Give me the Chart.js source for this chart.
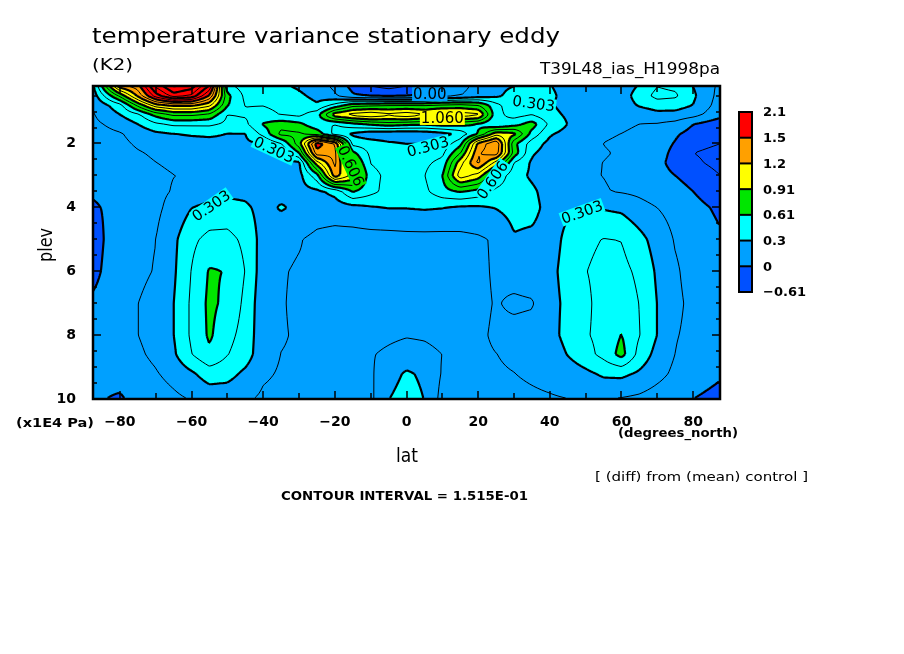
<!DOCTYPE html>
<html>
<head>
<meta charset="utf-8">
<title>temperature variance stationary eddy</title>
<script src="https://cdn.jsdelivr.net/npm/chart.js@4.4.0/dist/chart.umd.min.js"></script>
<style>
  html, body { margin: 0; padding: 0; background: #fff; }
  canvas { display: block; }
</style>
</head>
<body>
<canvas id="grafica" width="904" height="654"></canvas>
<script>
// grid of the field: lat (degrees_north) x plev (x1E4 Pa), values in K2
var lats = [-87.5,-80,-75,-70,-65,-60,-55,-50,-45,-40,-35,-30,-25,-20,-15,-10,-5,0,5,10,15,20,25,30,35,40,45,50,55,60,65,70,75,80,87.5];
var plevs = [0.2,0.5,0.8,1.1,1.4,1.7,2.0,2.3,2.6,3.0,3.5,4.0,5.0,6.0,7.0,8.0,8.6,9.2,10.0];

var p0_2 = [0.27,1.30,1.45,2.00,2.30,2.20,1.80,0.50,0.38,0.40,0.33,0.28,0.22,0.12,-0.05,-0.15,-0.20,-0.15,-0.10,-0.03,0.10,0.20,0.27,0.30,0.35,0.31,0.25,0.20,0.16,0.20,0.32,0.45,0.42,0.30,0.12];
var p0_5 = [0.22,0.80,1.25,1.75,2.05,1.95,1.50,0.65,0.42,0.42,0.38,0.33,0.26,0.17,0.02,-0.02,-0.03,-0.02,0.02,0.10,0.15,0.22,0.27,0.36,0.40,0.33,0.26,0.20,0.17,0.22,0.38,0.50,0.48,0.33,0.10];
var p0_8 = [0.17,0.40,0.80,1.15,1.25,1.25,1.10,0.62,0.45,0.45,0.42,0.38,0.32,0.50,0.70,0.72,0.75,0.75,0.75,0.78,0.80,0.75,0.50,0.35,0.38,0.32,0.25,0.20,0.17,0.22,0.32,0.38,0.37,0.30,0.08];
var p1_1 = [0.14,0.30,0.42,0.65,0.78,0.78,0.72,0.45,0.47,0.50,0.45,0.42,0.55,1.00,1.12,1.18,1.10,1.16,1.08,1.17,1.15,1.10,0.50,0.40,0.45,0.35,0.28,0.20,0.17,0.18,0.20,0.25,0.25,0.20,0.05];
var p1_4 = [0.12,0.20,0.30,0.42,0.48,0.48,0.48,0.42,0.42,0.62,0.70,0.65,0.50,0.45,0.55,0.62,0.68,0.64,0.62,0.66,0.65,0.58,0.45,0.55,0.68,0.42,0.30,0.22,0.20,0.18,0.15,0.14,0.10,0.00,-0.10];
var p1_7 = [0.10,0.14,0.20,0.27,0.30,0.32,0.33,0.30,0.30,0.50,0.80,0.78,0.70,0.40,0.28,0.20,0.18,0.18,0.20,0.25,0.35,0.62,1.00,0.95,0.55,0.32,0.25,0.20,0.17,0.15,0.12,0.08,0.02,-0.05,-0.15];
var p2_0 = [0.07,0.12,0.17,0.20,0.22,0.24,0.25,0.26,0.28,0.30,0.45,0.85,1.60,1.35,0.40,0.38,0.33,0.30,0.30,0.35,0.55,1.25,1.50,0.65,0.38,0.26,0.22,0.20,0.15,0.13,0.10,0.07,-0.01,-0.10,-0.15];
var p2_3 = [0.05,0.10,0.14,0.17,0.19,0.20,0.22,0.23,0.25,0.27,0.28,0.60,1.45,1.40,0.65,0.42,0.40,0.38,0.38,0.42,0.75,1.35,1.45,0.70,0.32,0.24,0.22,0.18,0.16,0.14,0.10,0.06,-0.04,-0.15,-0.20];
var p2_6 = [0.04,0.08,0.12,0.15,0.17,0.18,0.19,0.20,0.21,0.22,0.24,0.28,1.00,1.40,0.80,0.45,0.40,0.40,0.42,0.50,1.00,1.40,1.00,0.45,0.28,0.25,0.20,0.17,0.15,0.13,0.08,0.04,-0.05,-0.12,-0.20];
var p3_0 = [0.03,0.07,0.10,0.13,0.15,0.16,0.17,0.18,0.19,0.20,0.21,0.25,0.55,1.30,1.00,0.50,0.42,0.40,0.45,0.60,1.15,1.00,0.58,0.36,0.28,0.22,0.18,0.16,0.15,0.13,0.10,0.05,0.00,-0.05,-0.15];
var p3_5 = [0.02,0.05,0.09,0.12,0.16,0.20,0.24,0.26,0.26,0.22,0.24,0.25,0.27,0.35,0.62,0.50,0.40,0.38,0.42,0.55,0.62,0.55,0.42,0.38,0.33,0.24,0.20,0.17,0.16,0.14,0.12,0.08,0.05,0.00,-0.10];
var p4_0 = [-0.02,0.05,0.09,0.12,0.20,0.30,0.34,0.36,0.33,0.25,0.32,0.27,0.22,0.22,0.25,0.29,0.31,0.31,0.32,0.31,0.28,0.28,0.31,0.35,0.35,0.25,0.28,0.29,0.29,0.27,0.20,0.15,0.10,0.05,-0.03];
var p5_0 = [-0.08,0.12,0.12,0.15,0.27,0.42,0.50,0.50,0.42,0.24,0.18,0.16,0.12,0.10,0.09,0.09,0.09,0.10,0.10,0.10,0.11,0.13,0.17,0.29,0.27,0.24,0.34,0.42,0.46,0.45,0.35,0.24,0.14,0.10,0.02];
var p6_0 = [-0.05,0.12,0.12,0.16,0.28,0.46,0.62,0.60,0.45,0.22,0.16,0.14,0.14,0.10,0.09,0.09,0.09,0.09,0.09,0.10,0.10,0.12,0.17,0.20,0.22,0.26,0.36,0.45,0.50,0.50,0.42,0.28,0.17,0.10,0.05];
var p7_0 = [0.03,0.10,0.15,0.20,0.30,0.48,0.64,0.57,0.42,0.20,0.16,0.13,0.12,0.10,0.10,0.10,0.10,0.10,0.10,0.10,0.10,0.12,0.16,0.13,0.14,0.25,0.34,0.42,0.52,0.56,0.45,0.30,0.18,0.12,0.06];
var p8_0 = [0.05,0.10,0.15,0.20,0.30,0.48,0.63,0.50,0.40,0.20,0.16,0.14,0.11,0.09,0.09,0.10,0.12,0.14,0.13,0.10,0.11,0.13,0.17,0.19,0.20,0.24,0.36,0.44,0.50,0.61,0.46,0.30,0.16,0.12,0.08];
var p8_6 = [0.04,0.08,0.13,0.18,0.28,0.45,0.58,0.46,0.38,0.20,0.15,0.14,0.12,0.12,0.12,0.14,0.18,0.22,0.20,0.15,0.12,0.13,0.15,0.17,0.15,0.20,0.31,0.40,0.50,0.66,0.40,0.25,0.15,0.10,0.05];
var p9_2 = [0.03,0.06,0.10,0.14,0.20,0.28,0.38,0.36,0.27,0.17,0.14,0.13,0.12,0.12,0.12,0.13,0.25,0.32,0.28,0.14,0.12,0.13,0.14,0.15,0.17,0.19,0.22,0.27,0.33,0.34,0.28,0.20,0.12,0.08,0.02];
var p10_0 = [0.02,-0.02,0.05,0.08,0.12,0.16,0.20,0.20,0.17,0.13,0.12,0.11,0.10,0.10,0.10,0.12,0.30,0.36,0.30,0.10,0.10,0.11,0.12,0.12,0.13,0.14,0.15,0.16,0.16,0.14,0.12,0.08,0.05,0.00,-0.05];

var field = [p0_2,p0_5,p0_8,p1_1,p1_4,p1_7,p2_0,p2_3,p2_6,p3_0,p3_5,p4_0,p5_0,p6_0,p7_0,p8_0,p8_6,p9_2,p10_0];

var fillLevels = [-0.61, 0, 0.303, 0.606, 0.909, 1.212, 1.515, 2.121];
var fillColors = ['#0050ff', '#00a0ff', '#00ffff', '#00e600', '#ffff00', '#ffa000', '#ff0000'];
var barLabels = ['\u22120.61', '0', '0.3', '0.61', '0.91', '1.2', '1.5', '2.1'];
var latTicks = [-80, -60, -40, -20, 0, 20, 40, 60, 80];
var plevTicks = [2, 4, 6, 8, 10];
var contourInterval = 0.1515;

// contour labels
var labelLats = [-37, 6, 6.5, 35.5, -54.5, 49, -15.5, 24, 10];
var labelPlevs = [2.2, 2.1, 0.45, 0.75, 3.95, 4.15, 2.7, 3.15, 1.2];
var labelTexts = ['0.303', '0.303', '0.00', '0.303', '0.303', '0.303', '0.606', '0.606', '1.060'];

var labelAngles = [25, -15, 0, 8, -35, -20, 65, -55, 0];

function buscarIndice(arr, v) {
    var i = 0;
    while (i < arr.length - 2 && v > arr[i + 1]) i++;
    return i;
}

function valorCampo(lat, p) {
    var i = buscarIndice(lats, lat), j = buscarIndice(plevs, p);
    var tx = (lat - lats[i]) / (lats[i + 1] - lats[i]);
    var ty = (p - plevs[j]) / (plevs[j + 1] - plevs[j]);
    tx = Math.max(0, Math.min(1, tx));
    ty = Math.max(0, Math.min(1, ty));
    var a = field[j][i], b = field[j][i + 1], c = field[j + 1][i], d = field[j + 1][i + 1];
    return (a * (1 - tx) + b * tx) * (1 - ty) + (c * (1 - tx) + d * tx) * ty;
}

function indiceColor(v) {
    var k = 0;
    while (k < fillColors.length - 1 && v >= fillLevels[k + 1]) k++;
    return k;
}

function hexRGB(h) {
    return [parseInt(h.substr(1, 2), 16), parseInt(h.substr(3, 2), 16), parseInt(h.substr(5, 2), 16)];
}
var rgbColors = fillColors.map(hexRGB);

function textoAjustado(ctx, txt, x, y, ancho) {
    var w = ctx.measureText(txt).width;
    ctx.save();
    ctx.translate(x, y);
    ctx.scale(ancho / w, 1);
    ctx.textAlign = 'left';
    ctx.textBaseline = 'middle';
    ctx.fillText(txt, 0, 0);
    ctx.restore();
}

function linea(ctx, x1, y1, x2, y2) {
    ctx.beginPath();
    ctx.moveTo(x1, y1);
    ctx.lineTo(x2, y2);
    ctx.stroke();
}

var contourPlugin = {
    id: 'contorno',
    beforeDatasetsDraw: function(chart) {
        var ctx = chart.ctx, a = chart.chartArea, sx = chart.scales.x, sy = chart.scales.y;
        var x0 = Math.round(a.left), y0 = Math.round(a.top);
        var w = Math.round(a.right) - x0, h = Math.round(a.bottom) - y0;

        // shaded field
        var img = ctx.createImageData(w, h);
        var colLat = [], rowP = [];
        for (var i = 0; i < w; i++) colLat.push(sx.getValueForPixel(x0 + i + 0.5));
        for (var j = 0; j < h; j++) rowP.push(sy.getValueForPixel(y0 + j + 0.5));
        for (j = 0; j < h; j++) {
            for (i = 0; i < w; i++) {
                var c = rgbColors[indiceColor(valorCampo(colLat[i], rowP[j]))];
                var o = (j * w + i) * 4;
                img.data[o] = c[0]; img.data[o + 1] = c[1]; img.data[o + 2] = c[2]; img.data[o + 3] = 255;
            }
        }
        ctx.putImageData(img, x0, y0);

        // contour lines (marching squares on a 2px grid)
        var s = 2;
        var nx = Math.floor(w / s) + 1, ny = Math.floor(h / s) + 1;
        var gx = [], gy = [], g = [];
        for (i = 0; i < nx; i++) gx.push(Math.min(x0 + i * s, x0 + w));
        for (j = 0; j < ny; j++) gy.push(Math.min(y0 + j * s, y0 + h));
        for (j = 0; j < ny; j++) {
            var rp = sy.getValueForPixel(gy[j]);
            for (i = 0; i < nx; i++) g.push(valorCampo(sx.getValueForPixel(gx[i]), rp));
        }
        ctx.save();
        ctx.beginPath();
        ctx.rect(a.left, a.top, a.right - a.left, a.bottom - a.top);
        ctx.clip();
        ctx.strokeStyle = '#000';
        ctx.lineJoin = 'round';
        for (var k = -4; k <= 16; k++) {
            var lv = k * contourInterval;
            ctx.lineWidth = (k % 2 === 0) ? 2.2 : 1;
            ctx.beginPath();
            for (j = 0; j < ny - 1; j++) {
                for (i = 0; i < nx - 1; i++) {
                    var v0 = g[j * nx + i], v1 = g[j * nx + i + 1];
                    var v2 = g[(j + 1) * nx + i + 1], v3 = g[(j + 1) * nx + i];
                    var idx = (v0 > lv ? 8 : 0) | (v1 > lv ? 4 : 0) | (v2 > lv ? 2 : 0) | (v3 > lv ? 1 : 0);
                    if (idx === 0 || idx === 15) continue;
                    var xa = gx[i], xb = gx[i + 1], ya = gy[j], yb = gy[j + 1];
                    var T = [xa + (xb - xa) * (lv - v0) / (v1 - v0), ya];
                    var R = [xb, ya + (yb - ya) * (lv - v1) / (v2 - v1)];
                    var B = [xa + (xb - xa) * (lv - v3) / (v2 - v3), yb];
                    var L = [xa, ya + (yb - ya) * (lv - v0) / (v3 - v0)];
                    var segs;
                    switch (idx) {
                        case 1: case 14: segs = [L, B]; break;
                        case 2: case 13: segs = [B, R]; break;
                        case 3: case 12: segs = [L, R]; break;
                        case 4: case 11: segs = [T, R]; break;
                        case 6: case 9: segs = [T, B]; break;
                        case 7: case 8: segs = [L, T]; break;
                        case 5: segs = [L, T, B, R]; break;
                        case 10: segs = [T, R, L, B]; break;
                    }
                    for (var q = 0; q < segs.length; q += 2) {
                        ctx.moveTo(segs[q][0], segs[q][1]);
                        ctx.lineTo(segs[q + 1][0], segs[q + 1][1]);
                    }
                }
            }
            ctx.stroke();
        }

        // labels on the contours
        ctx.font = '15px "DejaVu Sans"';
        ctx.textAlign = 'center';
        ctx.textBaseline = 'middle';
        for (var n = 0; n < labelTexts.length; n++) {
            var px = sx.getPixelForValue(labelLats[n]), py = sy.getPixelForValue(labelPlevs[n]);
            var tw = ctx.measureText(labelTexts[n]).width;
            ctx.save();
            ctx.translate(px, py);
            ctx.rotate(labelAngles[n] * Math.PI / 180);
            ctx.fillStyle = fillColors[indiceColor(valorCampo(labelLats[n], labelPlevs[n]))];
            ctx.fillRect(-tw / 2 - 1, -7, tw + 2, 14);
            ctx.fillStyle = '#000';
            ctx.fillText(labelTexts[n], 0, 1);
            ctx.restore();
        }
        ctx.restore();
    },
    afterDraw: function(chart) {
        var ctx = chart.ctx, a = chart.chartArea, sx = chart.scales.x, sy = chart.scales.y;
        ctx.save();
        ctx.strokeStyle = '#000';
        ctx.fillStyle = '#000';

        // frame and inward ticks
        ctx.lineWidth = 2.5;
        ctx.strokeRect(a.left, a.top, a.right - a.left, a.bottom - a.top);
        ctx.lineWidth = 1.5;
        for (var lt = -80; lt <= 80; lt += 10) {
            var px = Math.round(sx.getPixelForValue(lt));
            var len = (lt % 20 === 0) ? 8 : 6;
            linea(ctx, px, a.bottom, px, a.bottom - len);
            linea(ctx, px, a.top, px, a.top + len);
        }
        for (var pv = 0.5; pv <= 10; pv += 0.5) {
            var py = Math.round(sy.getPixelForValue(pv));
            var ln = (pv % 2 === 0) ? 8 : 4;
            linea(ctx, a.left, py, a.left + ln, py);
            linea(ctx, a.right, py, a.right - ln, py);
        }

        // colour bar
        var cbX = 739, cbW = 13, cbTop = 112, cbH = 180;
        var nb = fillColors.length, bh = cbH / nb;
        for (var k = 0; k < nb; k++) {
            ctx.fillStyle = fillColors[nb - 1 - k];
            ctx.fillRect(cbX, cbTop + k * bh, cbW, bh);
        }
        ctx.lineWidth = 2;
        ctx.strokeRect(cbX, cbTop, cbW, cbH);
        for (k = 1; k < nb; k++) linea(ctx, cbX, cbTop + k * bh, cbX + cbW, cbTop + k * bh);
        ctx.fillStyle = '#000';
        ctx.font = 'bold 13px "DejaVu Sans"';
        ctx.textAlign = 'left';
        ctx.textBaseline = 'middle';
        for (k = 0; k <= nb; k++) ctx.fillText(barLabels[nb - k], 763, cbTop + k * bh + 1);

        // titles and axis texts
        ctx.font = '21px "DejaVu Sans"';
        textoAjustado(ctx, 'temperature variance stationary eddy', 92, 38, 468);
        ctx.font = '16px "DejaVu Sans"';
        textoAjustado(ctx, '(K2)', 92, 66, 41);
        ctx.font = '15px "DejaVu Sans"';
        textoAjustado(ctx, 'T39L48_ias_H1998pa', 540, 70, 180);

        ctx.save();
        ctx.translate(47, 245);
        ctx.rotate(-Math.PI / 2);
        ctx.font = '20px "DejaVu Sans"';
        textoAjustado(ctx, 'plev', -17, 0, 34);
        ctx.restore();

        ctx.font = 'bold 13px "DejaVu Sans"';
        textoAjustado(ctx, '(x1E4 Pa)', 16, 424, 78);
        textoAjustado(ctx, '(degrees_north)', 618, 434, 120);
        textoAjustado(ctx, 'CONTOUR INTERVAL = 1.515E-01', 281, 497, 247);
        ctx.font = '20px "DejaVu Sans"';
        textoAjustado(ctx, 'lat', 396, 457, 22);
        ctx.font = '13px "DejaVu Sans"';
        textoAjustado(ctx, '[ (diff) from (mean) control ]', 595, 478, 213);
        ctx.restore();
    }
};

var puntos = [];
for (var j = 0; j < plevs.length; j++) {
    for (var i = 0; i < lats.length; i++) puntos.push({ x: lats[i], y: plevs[j] });
}

var tickFont = { family: 'DejaVu Sans', size: 14, weight: 'bold' };

var grafica = new Chart(document.getElementById('grafica').getContext('2d'), {
    type: 'scatter',
    data: {
        datasets: [{ data: puntos, pointRadius: 0, pointHoverRadius: 0, showLine: false }]
    },
    options: {
        responsive: false,
        animation: false,
        devicePixelRatio: 1,
        layout: { padding: { left: 0, top: 86, right: 184, bottom: 225 } },
        plugins: { legend: { display: false }, tooltip: { enabled: false } },
        events: [],
        scales: {
            x: {
                type: 'linear', min: -87.5, max: 87.5,
                grid: { display: false }, border: { display: false },
                afterBuildTicks: function(s) { s.ticks = latTicks.map(function(v) { return { value: v }; }); },
                afterFit: function(s) { s.height = 30; },
                ticks: {
                    autoSkip: false, maxRotation: 0, padding: 7, color: '#000', font: tickFont,
                    callback: function(v) { return String(v).replace('-', '\u2212'); }
                }
            },
            y: {
                type: 'linear', min: 0.2, max: 10, reverse: true,
                grid: { display: false }, border: { display: false },
                afterBuildTicks: function(s) { s.ticks = plevTicks.map(function(v) { return { value: v }; }); },
                afterFit: function(s) { s.width = 93; },
                ticks: {
                    autoSkip: false, padding: 9, color: '#000', font: tickFont,
                    callback: function(v) { return String(v); }
                }
            }
        }
    },
    plugins: [contourPlugin]
});
</script>
</body>
</html>
